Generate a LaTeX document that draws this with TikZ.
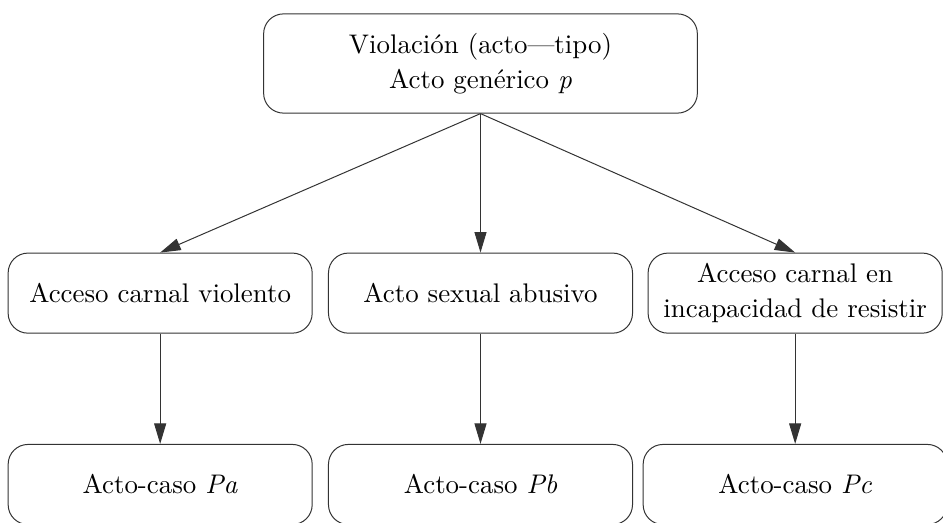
\documentclass[tikz,border=0pt]{standalone}
\usepackage{tikz}
\usetikzlibrary{arrows.meta}

\begin{document}
\begin{tikzpicture}[auto, node distance=3.24cm, thin,
			>={Triangle[length=2.9mm,width=1.7mm]},
			box node/.style={rectangle,rounded corners=2.8mm,draw=black!80,align=center,
				minimum width=4.29cm,minimum height=1.13cm,
				font=\fontsize{10.8}{14}\selectfont}]
			
			\useasboundingbox (0,0) rectangle (13.306,-7.366);
			
			\node[box node, minimum width=6.12cm, minimum height=1.40cm] (tipo) at (6.78,-0.896)
			{Violación (acto---tipo)\\Acto genérico \textit{p}};
			\node[box node] (abusivo) [below of=tipo] {Acto sexual abusivo};
			\node[box node] (violento) [left of=abusivo, node distance=4.52cm] {Acceso carnal violento};
			\node[box node, minimum width=4.15cm] (resistir) [right of=abusivo, node distance=4.44cm]
			{Acceso carnal en\\incapacidad de resistir};
			
			\node[box node] (pa) [below of=violento, node distance=2.70cm] {Acto-caso \textit{Pa}};
			\node[box node] (pb) [below of=abusivo, node distance=2.70cm] {Acto-caso \textit{Pb}};
			\node[box node] (pc) [below of=resistir, node distance=2.70cm] {Acto-caso \textit{Pc}};
			
			\path[->, color=black!80]
			(tipo.south) edge (violento.north)
			edge (abusivo.north)
			edge (resistir.north)
			(violento) edge (pa)
			(abusivo) edge (pb)
			(resistir) edge (pc);
			\end{tikzpicture}
\end{document}
